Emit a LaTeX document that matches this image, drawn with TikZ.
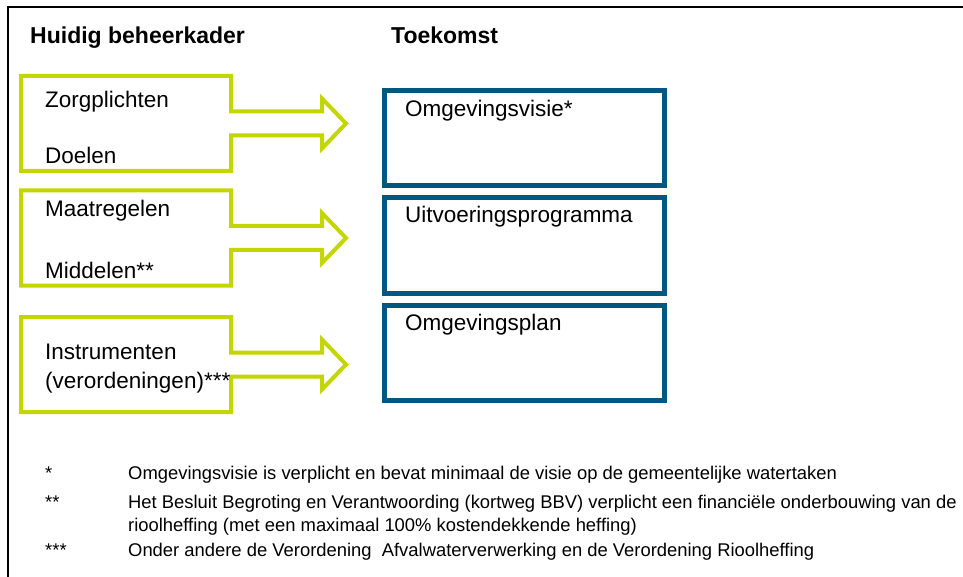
\documentclass[tikz,border=0pt]{standalone}
\usepackage{fontspec}
\setmainfont{Liberation Sans}
\usetikzlibrary{calc,positioning}
\definecolor{groen}{RGB}{196,214,0}
\definecolor{blauw}{RGB}{0,88,128}
\tikzset{
  kop/.style    = { anchor=base west, inner sep=0pt, font=\fontsize{23}{27}\selectfont\bfseries },
  lbl/.style    = { anchor=base west, inner sep=0pt, font=\fontsize{22.5}{27}\selectfont },
  voet/.style   = { anchor=base west, inner sep=0pt, font=\fontsize{18.4}{22}\selectfont },
  gkader/.style = { rectangle, inner sep=0pt, outer sep=0pt, minimum width=210pt, minimum height=95pt },
  bkader/.style = { draw=blauw, line width=5pt, rectangle, inner sep=0pt, outer sep=0pt,
    minimum width=280pt, minimum height=95pt },
  pijl/.style   = { draw=groen, line width=4pt, line join=miter }
}
% kader met blokpijl naar rechts
\newcommand\kaderpijl[1]{%
  \draw[pijl] ($(#1.east)+(0,-12)$) -- (#1.north east) -- (#1.north west)
    -- (#1.south west) -- (#1.south east) -- ($(#1.east)+(0,12)$)
    -- ++(91,0) -- ++(0,13) -- ++(24,-25) -- ++(-24,-25) -- ++(0,13) -- cycle;}

\begin{document}
\begin{tikzpicture}[x=1pt,y=-1pt]
    \useasboundingbox (0,0) rectangle (963,577);
    \draw[line width=2pt] (963,7.5) -- (7.5,7.5) -- (7.5,577);

    % koppen
    \node[kop] (h0) at (30,44) {Huidig beheerkader};
    \node[kop] (h1) at (391,44) {Toekomst};

    % huidig
    \node[gkader] (g1) at (126,123.5) {};
    \node[gkader] (g2) at (126,238) {};
    \node[gkader] (g3) at (126,364.5) {};
    \kaderpijl{g1}
    \kaderpijl{g2}
    \kaderpijl{g3}
    \node[lbl] (g1a) at (45,108) {Zorgplichten};
    \node[lbl] (g1b) at (45,164) {Doelen};
    \node[lbl] (g2a) at (45,217) {Maatregelen};
    \node[lbl] (g2b) at (45,279) {Middelen**};
    \node[lbl] (g3a) at (45,359) {Instrumenten};
    \node[lbl] (g3b) at (45,388) {(verordeningen)***};

    % toekomst
    \node[bkader] (b1) at (524.5,138) {};
    \node[bkader] (b2) at (524.5,245.5) {};
    \node[bkader] (b3) at (524.5,352.5) {};
    \node[lbl] (b1a) at ($(b1.north west)+(20.5,26.5)$) {Omgevingsvisie*};
    \node[lbl] (b2a) at ($(b2.north west)+(20.5,25)$) {Uitvoeringsprogramma};
    \node[lbl] (b3a) at ($(b3.north west)+(20.5,25.5)$) {Omgevingsplan};

    % voetnoten
    \node[voet] (s1) at (45,479) {*};
    \node[voet] (s2) at (45,508) {**};
    \node[voet] (s3) at (45,556) {***};
    \node[voet] (n1) at (128,479) {Omgevingsvisie is verplicht en bevat minimaal de visie op de gemeentelijke watertaken};
    \node[voet] (n2) at (128,508) {Het Besluit Begroting en Verantwoording (kortweg BBV) verplicht een financiële onderbouwing van de};
    \node[voet] (n2b) at (128,531) {rioolheffing (met een maximaal 100\% kostendekkende heffing)};
    \node[voet] (n3) at (128,556) {Onder andere de Verordening\ \ Afvalwaterverwerking en de Verordening Rioolheffing};
\end{tikzpicture}
\end{document}
